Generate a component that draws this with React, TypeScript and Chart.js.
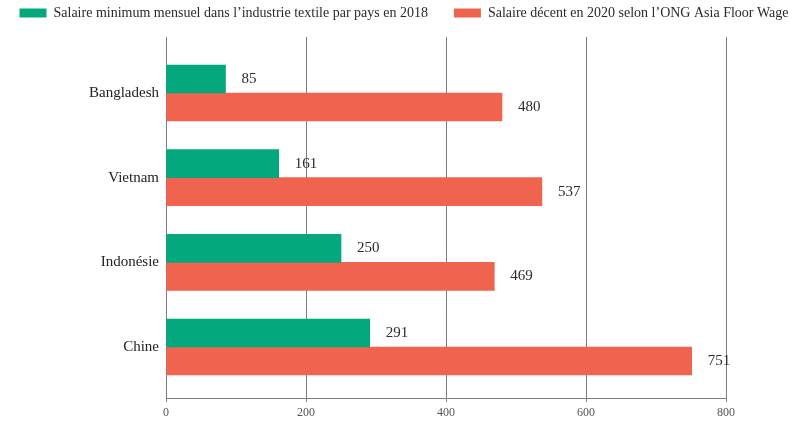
import { useEffect, useRef } from 'react';
import { Chart, registerables } from 'chart.js';

Chart.register(...registerables);

const FONT = '"Liberation Serif", "Times New Roman", serif';

const categories = ['Bangladesh', 'Vietnam', 'Indonésie', 'Chine'];
const minWage2018 = [85, 161, 250, 291];
const livingWage2020 = [480, 537, 469, 751];
const seriesLabels = [
  'Salaire minimum mensuel dans l’industrie textile par pays en 2018',
  'Salaire décent en 2020 selon l’ONG Asia Floor Wage',
];
const seriesColors = ['#03A87C', '#EF634F'];
const xTicks = [0, 200, 400, 600, 800];

const valueLabels = {
  id: 'valueLabels',
  afterDatasetsDraw(chart: any) {
    const ctx = chart.ctx;
    ctx.save();
    ctx.font = `15px ${FONT}`;
    ctx.fillStyle = '#2b2b2b';
    ctx.textAlign = 'left';
    ctx.textBaseline = 'middle';
    chart.data.datasets.forEach((ds: any, di: number) => {
      const meta = chart.getDatasetMeta(di);
      meta.data.forEach((el: any, i: number) => {
        const v = ds.data[i].x;
        ctx.fillText(String(v), el.x + 16, el.y);
      });
    });
    ctx.restore();
  },
};

export default function App() {
  const ref = useRef<HTMLCanvasElement | null>(null);

  useEffect(() => {
    if (!ref.current) return;
    const toPoints = (arr: number[]) => arr.map((v, i) => ({ x: v, y: i }));
    const chart = new Chart(ref.current, {
      type: 'bar',
      data: {
        datasets: [
          {
            label: seriesLabels[0],
            data: toPoints(minWage2018),
            backgroundColor: seriesColors[0],
            borderWidth: 0,
            barThickness: 28,
          },
          {
            label: seriesLabels[1],
            data: toPoints(livingWage2020),
            backgroundColor: seriesColors[1],
            borderWidth: 0,
            barThickness: 28,
          },
        ],
      },
      options: {
        indexAxis: 'y',
        animation: false,
        responsive: false,
        layout: { padding: { left: -22, right: -30, top: -20, bottom: 0 } },
        plugins: {
          legend: {
            position: 'top',
            align: 'center',
            labels: {
              boxWidth: 27,
              boxHeight: 9,
              padding: 26,
              color: '#2a2a2a',
              font: { size: 14, family: FONT },
            },
          },
          tooltip: { enabled: false },
        },
        scales: {
          x: {
            type: 'linear',
            position: 'bottom',
            min: 0,
            max: 800,
            afterBuildTicks: (s: any) => {
              s.ticks = xTicks.map((v) => ({ value: v }));
            },
            ticks: { padding: 4, color: '#555', font: { size: 12, family: FONT } },
            grid: { color: '#7d7d7d', lineWidth: 1, drawTicks: true, tickLength: 4 },
            border: { color: '#7d7d7d' },
            afterFit: (s: any) => {
              s.height = 25;
            },
          },
          y: {
            type: 'linear',
            reverse: true,
            offset: false,
            min: -0.661,
            max: 3.602,
            afterBuildTicks: (s: any) => {
              s.ticks = categories.map((_, i) => ({ value: i }));
            },
            ticks: {
              callback: (v: any) => categories[v] ?? '',
              padding: 7,
              color: '#222',
              font: { size: 15, family: FONT },
            },
            grid: { display: false, drawTicks: false },
            border: { display: false },
            afterFit: (s: any) => {
              s.width = 188;
            },
          },
          yR: {
            type: 'linear',
            position: 'right',
            ticks: { display: false },
            grid: { display: false, drawTicks: false },
            border: { display: false },
            afterFit: (s: any) => {
              s.width = 104;
            },
          },
          xT: {
            type: 'linear',
            position: 'top',
            ticks: { display: false },
            grid: { display: false, drawTicks: false },
            border: { display: false },
            afterFit: (s: any) => {
              s.height = 7;
            },
          },
        },
      } as any,
      plugins: [valueLabels],
    });
    return () => chart.destroy();
  }, []);

  return (
    <div style={{ position: 'fixed', left: 0, top: 0, width: 800, height: 423, background: '#fff' }}>
      <canvas ref={ref} width={800} height={423} style={{ display: 'block' }} />
    </div>
  );
}
